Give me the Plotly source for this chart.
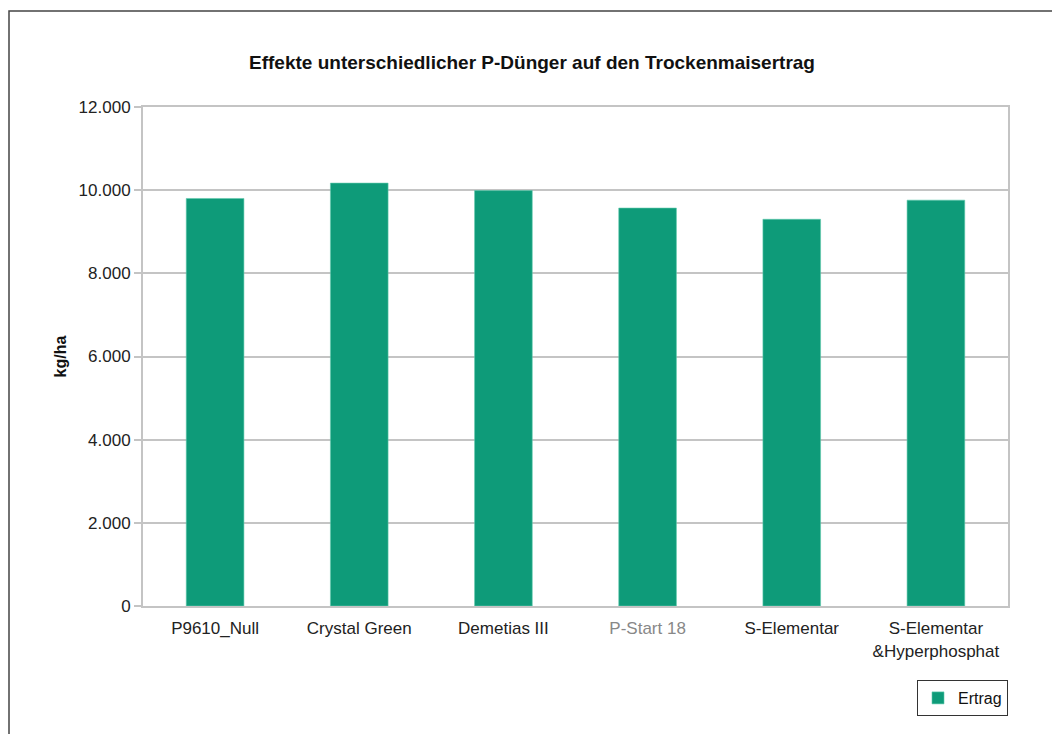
import plotly.graph_objects as go

categories = ["P9610_Null", "Crystal Green", "Demetias III", "P-Start 18", "S-Elementar", "S-Elementar<br>&Hyperphosphat"]
ertrag = [9800, 10170, 9990, 9570, 9300, 9760]
y_ticks = [0, 2000, 4000, 6000, 8000, 10000, 12000]
tick_colors = ["#222", "#222", "#222", "#888", "#222", "#222"]

# page is drawn with an 8px body offset
OFF = 8
W, H = 1060, 734
L, R, T, B = 143 - OFF, 1008 - OFF, 107 - OFF, 606 - OFF
pw, ph = R - L, B - T

def px(x):
    return (x - OFF - L) / pw

def py(y):
    return (B - (y - OFF)) / ph

fig = go.Figure()
fig.add_trace(go.Bar(
    x=categories, y=ertrag, name="Ertrag",
    marker=dict(color="#0e9b79", line=dict(color="#5fc9ad", width=0.6)),
    width=0.4,
))

fig.update_layout(
    width=W, height=H,
    margin=dict(l=L, r=W - R, t=T, b=H - B),
    paper_bgcolor="white", plot_bgcolor="white",
    separators=",.",
    font=dict(family="Liberation Sans, Arial, sans-serif", size=16, color="#222"),
    title=dict(text="<b>Effekte unterschiedlicher P-Dünger auf den Trockenmaisertrag</b>",
               x=(532 - OFF) / W, xanchor="center", y=1 - (62 - OFF) / H, yanchor="middle",
               font=dict(size=19, color="#111")),
    showlegend=True,
    legend=dict(x=1.0, xanchor="right", y=py(680), yanchor="top",
                bordercolor="#333", borderwidth=1, bgcolor="white",
                font=dict(size=16, color="#111"),
                itemwidth=30, tracegroupgap=0),
    bargap=0.6,
)
fig.update_yaxes(
    range=[0, 12000], tickvals=y_ticks, tickformat=",d",
    showgrid=True, gridcolor="#c4c4c4", gridwidth=2,
    showline=True, linecolor="#c4c4c4", linewidth=2, mirror=True,
    ticks="outside", ticklen=7, tickcolor="#c4c4c4", tickwidth=2,
    tickfont=dict(size=17, color="#222"),
    title=dict(text="<b>kg/ha</b>", font=dict(size=16, color="#111"), standoff=8),
    zeroline=False,
)
fig.update_xaxes(
    showline=True, linecolor="#c4c4c4", linewidth=2, mirror=True,
    tickmode="array", tickvals=categories,
    ticktext=[f'<span style="color:{c}">{t}</span>' for t, c in zip(categories, tick_colors)],
    tickfont=dict(size=17, color="#222"),
    ticks="", ticklabelstandoff=6,
)
fig.add_shape(type="rect", xref="paper", yref="paper",
              x0=px(9), x1=px(1080), y0=py(760), y1=py(11),
              line=dict(color="#444", width=1.5), fillcolor="rgba(0,0,0,0)", layer="below")

fig.write_html("out.html")
